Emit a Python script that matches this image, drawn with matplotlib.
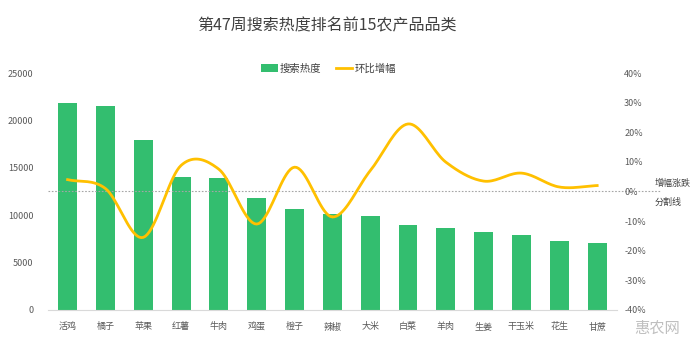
import numpy as np
import matplotlib.pyplot as plt

plt.rcParams['font.family'] = ['Noto Sans CJK SC', 'DejaVu Sans']

# data
categories = ['活鸡', '橘子', '苹果', '红薯', '牛肉', '鸡蛋', '橙子', '辣椒',
              '大米', '白菜', '羊肉', '生姜', '干玉米', '花生', '甘蔗']
search_heat = [21800, 21500, 17900, 14000, 13900, 11800, 10600, 10100,
               9900, 9000, 8600, 8200, 7900, 7300, 7100]
mom_change = [4.0, 1.0, -15.5, 8.8, 7.5, -11.0, 8.2, -8.6,
              7.0, 22.8, 9.9, 3.5, 6.2, 1.5, 2.0]

title = '第47周搜索热度排名前15农产品品类'
left_ticks = [0, 5000, 10000, 15000, 20000, 25000]
right_ticks = [-40, -30, -20, -10, 0, 10, 20, 30, 40]

green = '#33BE6F'
yellow = '#FFC000'
text_gray = '#595959'


def smooth(x, y, n=20):
    # catmull-rom spline, like the "smoothed line" option of office charts
    x = np.asarray(x, float)
    y = np.asarray(y, float)
    px = np.concatenate([[2 * x[0] - x[1]], x, [2 * x[-1] - x[-2]]])
    py = np.concatenate([[2 * y[0] - y[1]], y, [2 * y[-1] - y[-2]]])
    xs, ys = [], []
    t = np.linspace(0, 1, n)
    for i in range(1, len(px) - 2):
        for p, out in ((px, xs), (py, ys)):
            p0, p1, p2, p3 = p[i - 1], p[i], p[i + 1], p[i + 2]
            out.extend(0.5 * (2 * p1 + (-p0 + p2) * t
                              + (2 * p0 - 5 * p1 + 4 * p2 - p3) * t ** 2
                              + (-p0 + 3 * p1 - 3 * p2 + p3) * t ** 3))
    return np.array(xs), np.array(ys)


fig = plt.figure(figsize=(6.99, 3.51), dpi=100)
ax = fig.add_axes([0.068, 0.117, 0.815, 0.675])
ax2 = ax.twinx()

x = np.arange(len(categories))
ax.bar(x, search_heat, width=0.5, color=green, label='搜索热度', zorder=2)

sx, sy = smooth(x, mom_change)
ax2.plot(sx, sy, color=yellow, lw=2, label='环比增幅', zorder=3)

# zero split line, runs out past the right tick labels
ax2.plot([0, 1.075], [0.5, 0.5], transform=ax2.transAxes, clip_on=False,
         color='#A6A6A6', lw=0.8, ls=(0, (1.5, 1.5)), zorder=1)
fig.text(0.937, 0.479, '增幅涨跌', fontsize=6.5, color='#404040', va='center')
fig.text(0.937, 0.425, '分割线', fontsize=6.5, color='#404040', va='center')

ax.set_xlim(-0.53, 14.53)
ax.set_ylim(0, 25000)
ax2.set_ylim(-40, 40)
ax.set_xticks(x)
ax.set_xticklabels(categories)
ax.set_yticks(left_ticks)
ax2.set_yticks(right_ticks)
ax2.set_yticklabels([f'{v}%' for v in right_ticks])

for a in (ax, ax2):
    for s in a.spines.values():
        s.set_visible(False)
    a.tick_params(length=0, labelsize=6.5, labelcolor=text_gray)
ax.spines['bottom'].set_visible(True)
ax.spines['bottom'].set_color('#D9D9D9')
ax.tick_params(axis='x', pad=9)
ax.tick_params(axis='y', pad=10)
ax2.tick_params(axis='y', pad=5)
ax.set_zorder(ax2.get_zorder() - 1)
ax2.patch.set_visible(False)

fig.suptitle(title, x=0.468, y=0.95, fontsize=11.5, color='#404040')

h1, l1 = ax.get_legend_handles_labels()
h2, l2 = ax2.get_legend_handles_labels()
fig.legend(h1 + h2, l1 + l2, loc='center', bbox_to_anchor=(0.47, 0.805),
           ncol=2, frameon=False, fontsize=7.5, handlelength=1.6,
           handleheight=0.8, handletextpad=0.2, columnspacing=1.4,
           labelcolor='#404040')

fig.text(0.94, 0.065, '惠农网', fontsize=11, color='#BFBFBF', ha='center',
         va='center')

fig.savefig('out.png', dpi=100)
